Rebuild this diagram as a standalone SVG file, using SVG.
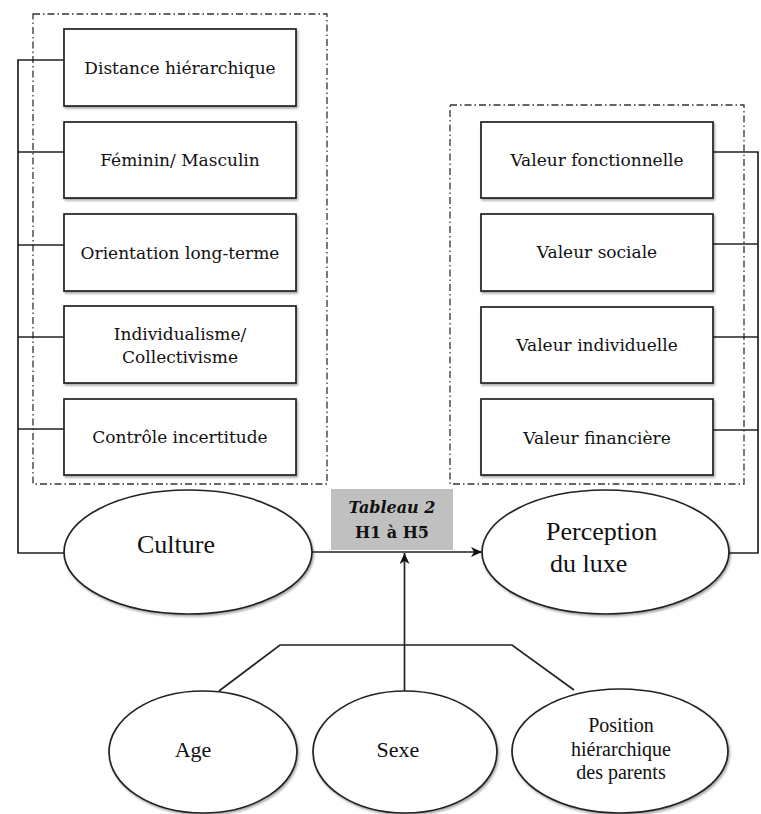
<svg xmlns="http://www.w3.org/2000/svg" width="761" height="814" viewBox="0 0 761 814">
<style>
.box{fill:#fff;stroke:#222;stroke-width:1.7;filter:url(#sh)}
.ell{fill:#fff;stroke:#222;stroke-width:1.7;filter:url(#sh)}
.grp{fill:none;stroke:#333;stroke-width:1.3;stroke-dasharray:7 3 1.5 3}
.ln{fill:none;stroke:#222;stroke-width:1.7}
.bt{font-family:"DejaVu Serif","Liberation Serif",serif;font-size:17px;fill:#111;text-anchor:middle}
.et{font-family:"Liberation Serif","Times New Roman",serif;font-size:26px;fill:#111}
.st{font-family:"Liberation Serif","Times New Roman",serif;font-size:22px;fill:#111;text-anchor:middle}
.pt{font-family:"Liberation Serif","Times New Roman",serif;font-size:20px;fill:#111;text-anchor:middle}
.tb{font-family:"DejaVu Serif","Liberation Serif",serif;font-size:16px;font-weight:bold;fill:#111;text-anchor:middle}
</style>
<defs>
<filter id="sh" x="-10%" y="-10%" width="125%" height="130%">
<feDropShadow dx="1.2" dy="1.8" stdDeviation="1.2" flood-color="#000" flood-opacity="0.35"/>
</filter>
<marker id="ar" markerUnits="userSpaceOnUse" markerWidth="12" markerHeight="10" refX="11" refY="5" orient="auto">
<path d="M0,0 L11,5 L0,10 L3,5 z" fill="#111"/>
</marker>
</defs>
<rect width="761" height="814" fill="#fff"/>

<g id="groups">
<rect class="grp" x="33" y="14" width="294" height="470"/>
<rect class="grp" x="450" y="105" width="294" height="379"/>
</g>

<g id="connectors">
<polyline class="ln" points="64,60 18,60 18,553 64,553"/>
<line class="ln" x1="18" y1="152" x2="64" y2="152"/>
<line class="ln" x1="18" y1="245" x2="64" y2="245"/>
<line class="ln" x1="18" y1="337" x2="64" y2="337"/>
<line class="ln" x1="18" y1="429" x2="64" y2="429"/>
<polyline class="ln" points="713,152 758,152 758,553 729,553"/>
<line class="ln" x1="713" y1="244" x2="758" y2="244"/>
<line class="ln" x1="713" y1="337" x2="758" y2="337"/>
<line class="ln" x1="713" y1="430" x2="758" y2="430"/>
<line class="ln" x1="312" y1="552" x2="482" y2="552" marker-end="url(#ar)"/>
<line class="ln" x1="404.5" y1="691" x2="404.5" y2="553" marker-end="url(#ar)"/>
<polyline class="ln" points="219,691 280,645 512,645 574,690"/>
</g>

<g id="tableau">
<rect x="331" y="489" width="122" height="61" fill="#c0c0c0"/>
<text class="tb" x="392" y="513" font-style="italic">Tableau 2</text>
<text class="tb" x="392" y="538">H1 à H5</text>
</g>

<g id="distance"><rect class="box" x="64" y="29" width="232" height="77"/><text class="bt" x="180" y="74">Distance hiérarchique</text></g>
<g id="feminin"><rect class="box" x="64" y="122" width="232" height="76"/><text class="bt" x="180" y="166">Féminin/ Masculin</text></g>
<g id="orientation"><rect class="box" x="64" y="214" width="232" height="77"/><text class="bt" x="180" y="259">Orientation long-terme</text></g>
<g id="individualisme"><rect class="box" x="64" y="306" width="232" height="77"/><text class="bt" x="180" y="340">Individualisme/</text><text class="bt" x="180" y="363">Collectivisme</text></g>
<g id="controle"><rect class="box" x="64" y="399" width="232" height="76"/><text class="bt" x="180" y="443">Contrôle incertitude</text></g>

<g id="fonctionnelle"><rect class="box" x="481" y="122" width="232" height="76"/><text class="bt" x="597" y="166">Valeur fonctionnelle</text></g>
<g id="sociale"><rect class="box" x="481" y="214" width="232" height="77"/><text class="bt" x="597" y="258">Valeur sociale</text></g>
<g id="individuelle"><rect class="box" x="481" y="307" width="232" height="76"/><text class="bt" x="597" y="351">Valeur individuelle</text></g>
<g id="financiere"><rect class="box" x="481" y="399" width="232" height="76"/><text class="bt" x="597" y="444">Valeur financière</text></g>

<g id="culture"><ellipse class="ell" cx="188" cy="552" rx="124" ry="62"/><text class="et" x="137" y="553">Culture</text></g>
<g id="perception"><ellipse class="ell" cx="605.5" cy="552" rx="123.5" ry="62"/><text class="et" x="546" y="540">Perception</text><text class="et" x="550" y="572">du luxe</text></g>

<g id="age"><ellipse class="ell" cx="203" cy="752" rx="94" ry="61"/><text class="st" x="193" y="757">Age</text></g>
<g id="sexe"><ellipse class="ell" cx="405" cy="752" rx="92" ry="61"/><text class="st" x="398" y="757">Sexe</text></g>
<g id="position"><ellipse class="ell" cx="620" cy="751" rx="108" ry="62"/><text class="pt" x="621" y="732">Position</text><text class="pt" x="621" y="756">hiérarchique</text><text class="pt" x="621" y="779">des parents</text></g>
</svg>
